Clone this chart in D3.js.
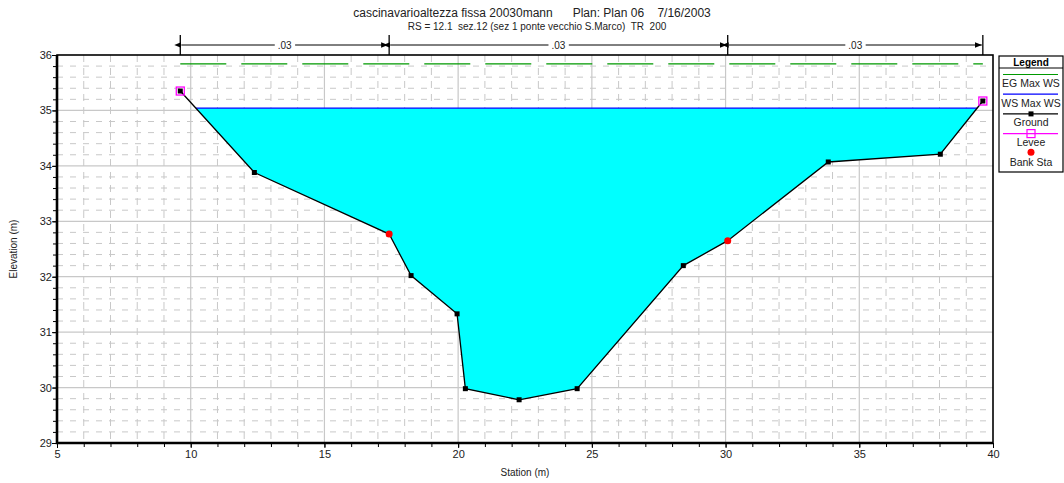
<!DOCTYPE html>
<html>
<head>
<meta charset="utf-8">
<script src="https://cdn.jsdelivr.net/npm/d3@7"></script>
<style>
  body { margin: 0; background: #fff; }
  svg { font-family: "Liberation Sans", Arial, sans-serif; }
</style>
</head>
<body>
<svg id="chart" width="1064" height="483"></svg>
<script>
// Sezione trasversale
const station   = [9.61, 12.38, 17.42, 18.24, 19.96, 20.27, 22.28, 24.45, 28.42, 30.08, 33.84, 38.03, 39.62];
const elevation = [35.35, 33.88, 32.77, 32.02, 31.33, 29.98, 29.78, 29.98, 32.20, 32.65, 34.07, 34.21, 35.17];
const bankStations = [17.42, 30.08];
const leveeStations = [9.61, 39.62];
const nBreaks = [9.61, 17.42, 30.08, 39.62];
const nValues = [".03", ".03", ".03"];
const wsElev = 35.04;
const egElev = 35.84;
const xTicks = [5, 10, 15, 20, 25, 30, 35, 40];
const yTicks = [29, 30, 31, 32, 33, 34, 35, 36];
const legendItems = ["EG Max WS", "WS Max WS", "Ground", "Levee", "Bank Sta"];

const W = 1064, H = 483;
const m = { left: 57, right: 993, top: 55, bottom: 443 };
const gridColor = "#c8c8c8";

const svg = d3.select("#chart");
const x = d3.scaleLinear().domain([5, 40]).range([m.left, m.right]);
const y = d3.scaleLinear().domain([29, 36]).range([m.bottom, m.top]);

const ground = station.map((s, i) => ({ s, z: elevation[i] }));
const elevAt = s => {
  for (let i = 0; i < ground.length - 1; i++) {
    const a = ground[i], b = ground[i + 1];
    if (s >= a.s && s <= b.s) return a.z + (b.z - a.z) * (s - a.s) / (b.s - a.s);
  }
  return null;
};

// Griglia secondaria tratteggiata
const gGrid = svg.append("g");
d3.range(6, 40).filter(v => v % 5 !== 0).forEach(v => {
  gGrid.append("line")
    .attr("x1", x(v)).attr("x2", x(v)).attr("y1", m.top).attr("y2", m.bottom)
    .attr("stroke", gridColor).attr("stroke-dasharray", "7,6");
});
d3.range(1, 35).map(k => 29 + k * 0.2).filter(v => Math.abs(v - Math.round(v)) > 0.01).forEach(v => {
  gGrid.append("line")
    .attr("x1", m.left).attr("x2", m.right).attr("y1", y(v)).attr("y2", y(v))
    .attr("stroke", gridColor).attr("stroke-dasharray", "6,7");
});
// Griglia principale
xTicks.slice(1, -1).forEach(v => {
  gGrid.append("line")
    .attr("x1", x(v)).attr("x2", x(v)).attr("y1", m.top).attr("y2", m.bottom)
    .attr("stroke", gridColor).attr("stroke-width", 1.2);
});
yTicks.slice(1, -1).forEach(v => {
  gGrid.append("line")
    .attr("x1", m.left).attr("x2", m.right).attr("y1", y(v)).attr("y2", y(v))
    .attr("stroke", gridColor).attr("stroke-width", 1.2);
});

// Area bagnata (terreno sotto il pelo libero)
const wet = [];
for (let i = 0; i < ground.length - 1; i++) {
  const a = ground[i], b = ground[i + 1];
  if (a.z <= wsElev) wet.push([a.s, a.z]);
  if ((a.z - wsElev) * (b.z - wsElev) < 0) {
    const t = (wsElev - a.z) / (b.z - a.z);
    wet.push([a.s + t * (b.s - a.s), wsElev]);
  }
}
const wsLeft = wet[0][0], wsRight = wet[wet.length - 1][0];
svg.append("path")
  .attr("d", d3.line().x(d => x(d[0])).y(d => y(d[1]))(wet) + "Z")
  .attr("fill", "#00ffff");

// Linea energia (tratteggiata verde)
svg.append("line")
  .attr("x1", x(leveeStations[0])).attr("x2", x(leveeStations[1]))
  .attr("y1", y(egElev)).attr("y2", y(egElev))
  .attr("stroke", "#009900").attr("stroke-width", 1.2).attr("stroke-dasharray", "46,15");

// Pelo libero
svg.append("line")
  .attr("x1", x(wsLeft)).attr("x2", x(wsRight))
  .attr("y1", y(wsElev)).attr("y2", y(wsElev))
  .attr("stroke", "#0000ff").attr("stroke-width", 1.3);

// Terreno
svg.append("path")
  .datum(ground)
  .attr("d", d3.line().x(d => x(d.s)).y(d => y(d.z)))
  .attr("fill", "none").attr("stroke", "#000").attr("stroke-width", 1.3);

// Argini
leveeStations.forEach(s => {
  svg.append("rect")
    .attr("x", x(s) - 4).attr("y", y(elevAt(s)) - 4).attr("width", 8).attr("height", 8)
    .attr("fill", "none").attr("stroke", "#ff00ff").attr("stroke-width", 1.3);
});
svg.selectAll(".gpt").data(ground).join("rect")
  .attr("class", "gpt")
  .attr("x", d => x(d.s) - 2.5).attr("y", d => y(d.z) - 2.5)
  .attr("width", 5).attr("height", 5).attr("fill", "#000");

// Sponde
bankStations.forEach(s => {
  svg.append("circle")
    .attr("cx", x(s)).attr("cy", y(elevAt(s))).attr("r", 3.5).attr("fill", "#ff0000");
});

// Assi
const axL = svg.append("g").attr("transform", `translate(${m.left},0)`)
  .call(d3.axisLeft(y).tickValues(yTicks).tickSize(5).tickFormat(d3.format("d")));
svg.append("g").attr("transform", `translate(${m.left},0)`)
  .call(d3.axisLeft(y).tickValues(d3.range(0, 36).map(k => 29 + k * 0.2)).tickSize(4).tickFormat(""));
const axB = svg.append("g").attr("transform", `translate(0,${m.bottom})`)
  .call(d3.axisBottom(x).tickValues(xTicks).tickSize(5).tickFormat(d3.format("d")));
svg.append("g").attr("transform", `translate(0,${m.bottom})`)
  .call(d3.axisBottom(x).tickValues(d3.range(5, 41)).tickSize(4).tickFormat(""));
svg.selectAll(".domain").remove();
svg.selectAll(".tick line").attr("stroke", "#000");
axL.selectAll("text").style("font-size", "11px").attr("fill", "#222").attr("x", -5);
axB.selectAll("text").style("font-size", "11px").attr("fill", "#222").attr("y", 7);

// Cornice
svg.append("rect")
  .attr("x", m.left).attr("y", m.top).attr("width", m.right - m.left).attr("height", m.bottom - m.top)
  .attr("fill", "none").attr("stroke", "#000").attr("stroke-width", 1.6);
svg.append("path")
  .attr("d", `M${m.left},${m.top}V${m.bottom}H${m.right}`)
  .attr("fill", "none").attr("stroke", "#000").attr("stroke-width", 2.6);

// Valori di Manning
const defs = svg.append("defs");
["start", "end"].forEach(k => {
  defs.append("marker")
    .attr("id", "arr-" + k).attr("viewBox", "0 0 10 10")
    .attr("refX", k === "end" ? 10 : 0).attr("refY", 5)
    .attr("markerWidth", 7).attr("markerHeight", 7).attr("orient", "auto-start-reverse")
    .append("path").attr("d", "M0,1L10,5L0,9Z").attr("fill", "#000");
});
const nY = 45;
nBreaks.forEach(s => {
  svg.append("line")
    .attr("x1", x(s)).attr("x2", x(s)).attr("y1", 35).attr("y2", m.top)
    .attr("stroke", "#000").attr("stroke-width", 1.3);
});
nValues.forEach((v, i) => {
  const x0 = x(nBreaks[i]), x1 = x(nBreaks[i + 1]);
  svg.append("line")
    .attr("x1", x0 + 1).attr("x2", x1 - 1).attr("y1", nY).attr("y2", nY)
    .attr("stroke", "#000").attr("stroke-width", 1)
    .attr("marker-start", "url(#arr-start)").attr("marker-end", "url(#arr-end)");
  const t = svg.append("text")
    .attr("x", (x0 + x1) / 2).attr("y", nY + 3.5)
    .attr("text-anchor", "middle").style("font-size", "10px").attr("fill", "#222").text(v);
  const bb = t.node().getBBox();
  svg.insert("rect", () => t.node())
    .attr("x", bb.x - 3).attr("y", bb.y).attr("width", bb.width + 6).attr("height", bb.height)
    .attr("fill", "#fff");
});

// Titoli
svg.append("text").attr("x", 532).attr("y", 17).attr("text-anchor", "middle")
  .style("font-size", "12px").style("white-space", "pre").attr("fill", "#222")
  .text("cascinavarioaltezza fissa 20030mann      Plan: Plan 06    7/16/2003");
svg.append("text").attr("x", 537).attr("y", 30).attr("text-anchor", "middle")
  .style("font-size", "10px").style("white-space", "pre").attr("fill", "#222")
  .text("RS = 12.1  sez.12 (sez 1 ponte vecchio S.Marco)  TR  200");
svg.append("text").attr("x", (m.left + m.right) / 2).attr("y", 476).attr("text-anchor", "middle")
  .style("font-size", "10px").attr("fill", "#222").text("Station (m)");
svg.append("text").attr("transform", `translate(17,${(m.top + m.bottom) / 2}) rotate(-90)`)
  .attr("text-anchor", "middle").style("font-size", "10px").attr("fill", "#222").text("Elevation (m)");

// Legenda
const lg = svg.append("g");
const lx0 = 999, lx1 = 1063, lcx = (lx0 + lx1) / 2;
lg.append("rect").attr("x", lx0).attr("y", 56).attr("width", lx1 - lx0).attr("height", 116)
  .attr("fill", "#fff").attr("stroke", "#000").attr("stroke-width", 1.2);
lg.append("text").attr("x", lcx).attr("y", 66).attr("text-anchor", "middle")
  .style("font-size", "10px").style("font-weight", "bold").text("Legend");
lg.append("line").attr("x1", lx0).attr("x2", lx1).attr("y1", 68).attr("y2", 68)
  .attr("stroke", "#000").attr("stroke-width", 1);
const lineColors = ["#009900", "#0000ff", "#000", "#ff00ff", null];
legendItems.forEach((name, i) => {
  const ly = 74.5 + i * 19.7;
  if (lineColors[i]) {
    lg.append("line").attr("x1", 1003).attr("x2", 1058).attr("y1", ly).attr("y2", ly)
      .attr("stroke", lineColors[i]).attr("stroke-width", 1.2);
  }
  if (name === "Ground") {
    lg.append("rect").attr("x", lcx - 2.5).attr("y", ly - 2.5).attr("width", 5).attr("height", 5).attr("fill", "#000");
  }
  if (name === "Levee") {
    lg.append("rect").attr("x", lcx - 4).attr("y", ly - 4).attr("width", 8).attr("height", 8)
      .attr("fill", "none").attr("stroke", "#ff00ff").attr("stroke-width", 1.2);
  }
  if (name === "Bank Sta") {
    lg.append("circle").attr("cx", lcx).attr("cy", ly - 1).attr("r", 3.5).attr("fill", "#ff0000");
  }
  lg.append("text").attr("x", lcx).attr("y", ly + 12.5).attr("text-anchor", "middle")
    .style("font-size", "10.5px").attr("fill", "#222").text(name);
});
</script>
</body>
</html>
